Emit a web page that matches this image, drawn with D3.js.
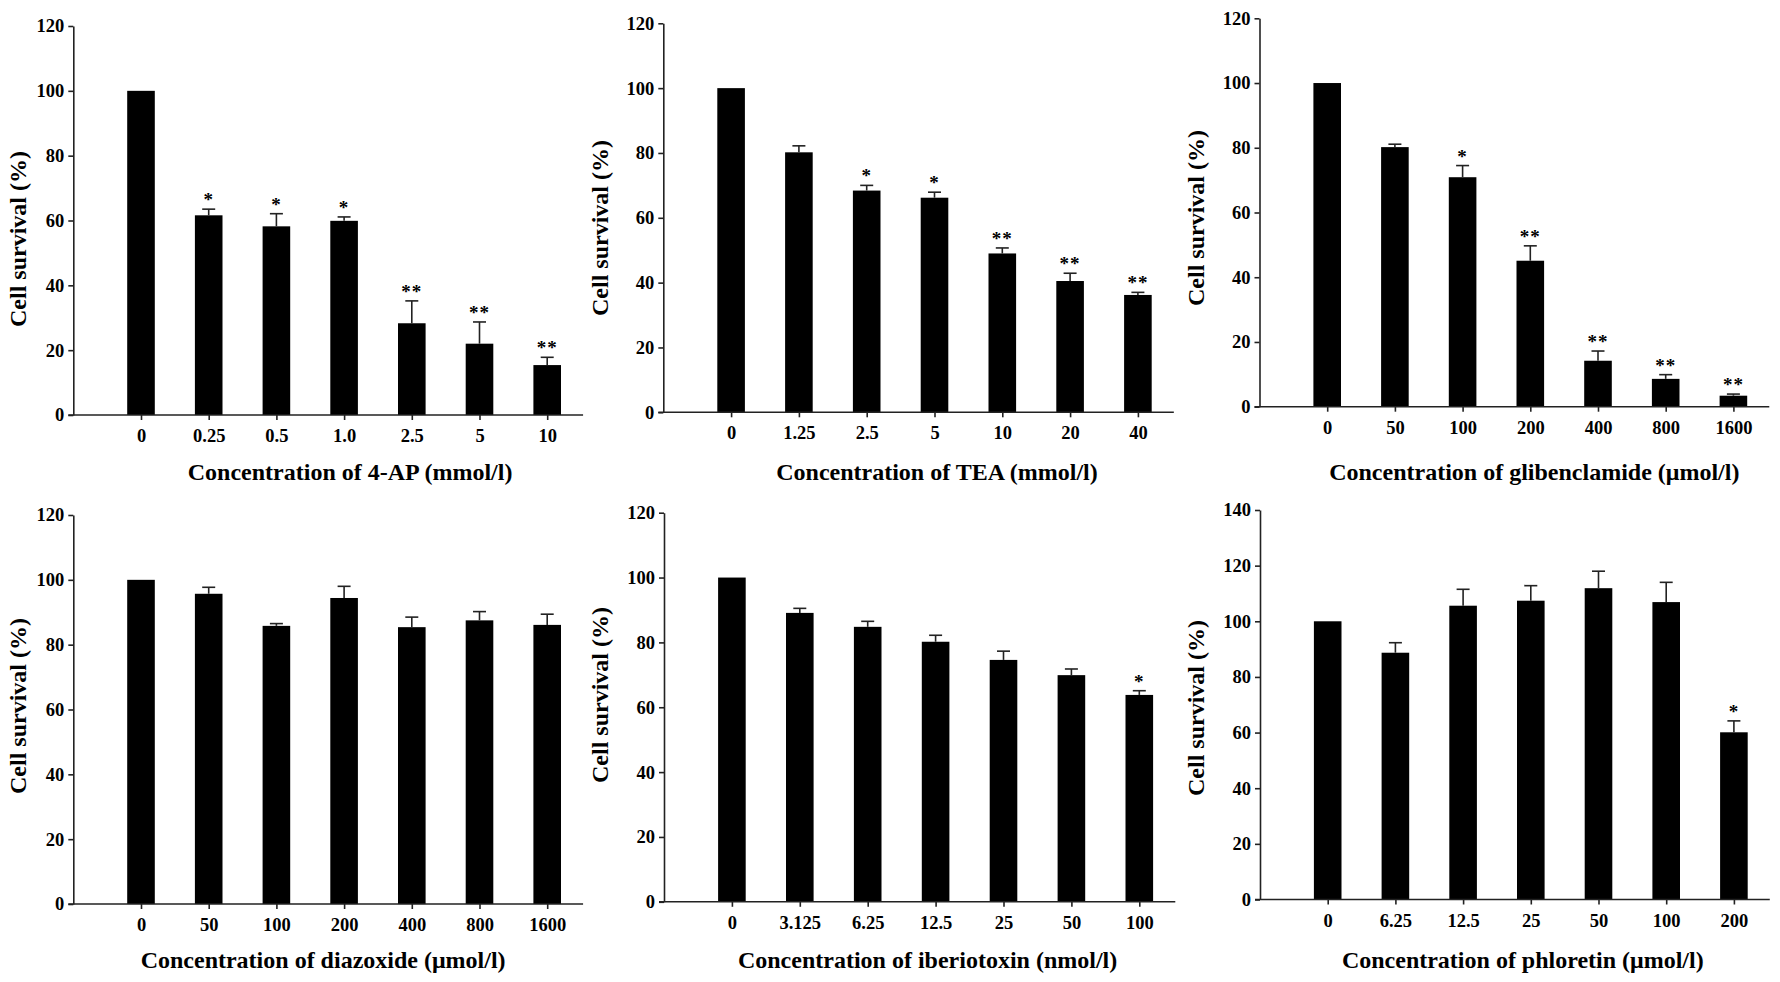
<!DOCTYPE html>
<html>
<head>
<meta charset="utf-8">
<script src="https://cdn.jsdelivr.net/npm/d3@7"></script>
<style>
  body { margin: 0; background: #fff; }
  text { font-family: "Liberation Serif", "Times New Roman", serif; font-weight: bold; fill: #000; }
</style>
</head>
<body>
<svg width="1780" height="982"></svg>
<script>
// values (mean cell survival %, SEM, significance)
var apConc = ["0", "0.25", "0.5", "1.0", "2.5", "5", "10"];
var apMean = [100, 61.6, 58.2, 59.9, 28.3, 22.0, 15.4];
var apErr  = [0, 1.9, 3.9, 1.2, 6.9, 6.7, 2.4];
var apSig  = ["", "*", "*", "*", "**", "**", "**"];

var teaConc = ["0", "1.25", "2.5", "5", "10", "20", "40"];
var teaMean = [100, 80.2, 68.4, 66.2, 49.0, 40.5, 36.2];
var teaErr  = [0, 2.0, 1.6, 1.7, 1.7, 2.4, 0.8];
var teaSig  = ["", "", "*", "*", "**", "**", "**"];

var gliConc = ["0", "50", "100", "200", "400", "800", "1600"];
var gliMean = [100, 80.2, 70.9, 45.1, 14.2, 8.6, 3.4];
var gliErr  = [0, 0.9, 3.6, 4.6, 3.0, 1.3, 0.5];
var gliSig  = ["", "", "*", "**", "**", "**", "**"];

var diaConc = ["0", "50", "100", "200", "400", "800", "1600"];
var diaMean = [100, 95.7, 85.8, 94.4, 85.4, 87.5, 86.1];
var diaErr  = [0, 2.0, 0.7, 3.6, 3.1, 2.7, 3.3];
var diaSig  = ["", "", "", "", "", "", ""];

var ibtConc = ["0", "3.125", "6.25", "12.5", "25", "50", "100"];
var ibtMean = [100, 89.1, 84.8, 80.2, 74.6, 69.9, 63.8];
var ibtErr  = [0, 1.4, 1.7, 2.0, 2.7, 1.9, 1.3];
var ibtSig  = ["", "", "", "", "", "", "*"];

var phlConc = ["0", "6.25", "12.5", "25", "50", "100", "200"];
var phlMean = [100, 88.7, 105.6, 107.4, 111.9, 106.9, 60.1];
var phlErr  = [0, 3.6, 5.9, 5.4, 6.1, 7.1, 4.1];
var phlSig  = ["", "", "", "", "", "", "*"];

var yTicks120 = [0, 20, 40, 60, 80, 100, 120];
var yTicks140 = [0, 20, 40, 60, 80, 100, 120, 140];

var yTitle = "Cell survival (%)";

// panel layout
var panels = [
  {cats: apConc, mean: apMean, err: apErr, sig: apSig, ticks: yTicks120,
   title: "Concentration of 4-AP (mmol/l)",
   ax: 73.3, y0: 415, yT: 26, step: 67.7, tdx: 6, tY: 480, ytx: 55, yty: 239},
  {cats: teaConc, mean: teaMean, err: teaErr, sig: teaSig, ticks: yTicks120,
   title: "Concentration of TEA (mmol/l)",
   ax: 663.3, y0: 412.3, yT: 23.3, step: 67.8, tdx: 2.5, tY: 480, ytx: 63, yty: 228},
  {cats: gliConc, mean: gliMean, err: gliErr, sig: gliSig, ticks: yTicks120,
   title: "Concentration of glibenclamide (\u03bcmol/l)",
   ax: 1259.5, y0: 406.7, yT: 18.3, step: 67.7, tdx: 4, tY: 480, ytx: 64, yty: 218},
  {cats: diaConc, mean: diaMean, err: diaErr, sig: diaSig, ticks: yTicks120,
   title: "Concentration of diazoxide (\u03bcmol/l)",
   ax: 73.3, y0: 904, yT: 515, step: 67.7, tdx: -21, tY: 968, ytx: 55, yty: 706},
  {cats: ibtConc, mean: ibtMean, err: ibtErr, sig: ibtSig, ticks: yTicks120,
   title: "Concentration of iberiotoxin (nmol/l)",
   ax: 664, y0: 901.8, yT: 512.7, step: 67.9, tdx: -8, tY: 968, ytx: 64, yty: 695},
  {cats: phlConc, mean: phlMean, err: phlErr, sig: phlSig, ticks: yTicks140,
   title: "Concentration of phloretin (\u03bcmol/l)",
   ax: 1260, y0: 899.5, yT: 510, step: 67.7, tdx: -8, tY: 968, ytx: 64, yty: 708}
];

var svg = d3.select('svg');

panels.forEach(function(p) {
  var n = p.cats.length;
  var yMax = p.ticks[p.ticks.length - 1];

  var x = d3.scalePoint()
    .domain([" "].concat(p.cats))
    .range([p.ax, p.ax + n * p.step]);
  var y = d3.scaleLinear().domain([0, yMax]).range([p.y0, p.yT]);

  var g = svg.append('g');

  var rows = p.cats.map(function(c, i) {
    return {cat: c, mean: p.mean[i], err: p.err[i], sig: p.sig[i]};
  });

  // bars
  g.selectAll('.bar')
    .data(rows)
    .enter()
    .append('rect')
    .attr('class', 'bar')
    .attr('x', function(d){ return x(d.cat) - 13.8; })
    .attr('width', 27.6)
    .attr('y', function(d){ return y(d.mean); })
    .attr('height', function(d){ return p.y0 - y(d.mean); })
    .attr('fill', '#000');

  // error bars
  var eb = rows.filter(function(d){ return d.err > 0; });
  g.selectAll('.errv')
    .data(eb)
    .enter()
    .append('line')
    .attr('x1', function(d){ return x(d.cat); })
    .attr('x2', function(d){ return x(d.cat); })
    .attr('y1', function(d){ return y(d.mean); })
    .attr('y2', function(d){ return y(d.mean + d.err); })
    .attr('stroke', '#222')
    .attr('stroke-width', 1.6);
  g.selectAll('.errc')
    .data(eb)
    .enter()
    .append('line')
    .attr('x1', function(d){ return x(d.cat) - 6.5; })
    .attr('x2', function(d){ return x(d.cat) + 6.5; })
    .attr('y1', function(d){ return y(d.mean + d.err); })
    .attr('y2', function(d){ return y(d.mean + d.err); })
    .attr('stroke', '#222')
    .attr('stroke-width', 1.6);

  // significance stars
  g.selectAll('.sig')
    .data(rows.filter(function(d){ return d.sig; }))
    .enter()
    .append('text')
    .attr('x', function(d){ return x(d.cat); })
    .attr('y', function(d){ return y(d.mean + d.err) - 3; })
    .attr('text-anchor', 'middle')
    .attr('font-size', 19)
    .attr('letter-spacing', 1)
    .text(function(d){ return d.sig; });

  // y axis
  var ya = g.append('g')
    .attr('transform', 'translate(' + p.ax + ',0)')
    .call(d3.axisLeft(y).tickValues(p.ticks).tickSize(5).tickSizeOuter(0).tickPadding(4));
  ya.select('.domain').attr('stroke', '#222').attr('stroke-width', 1.6);
  ya.selectAll('.tick line').attr('stroke', '#222').attr('stroke-width', 1.6);
  ya.selectAll('.tick text').attr('font-size', 18.5).attr('font-family', null);

  // x axis
  var xa = g.append('g')
    .attr('transform', 'translate(0,' + p.y0 + ')')
    .call(d3.axisBottom(x).tickValues(p.cats).tickSize(5).tickPadding(9));
  xa.select('.domain').remove();
  xa.append('line')
    .attr('x1', p.ax - 5)
    .attr('x2', p.ax + (n + 0.53) * p.step)
    .attr('stroke', '#222')
    .attr('stroke-width', 1.6);
  xa.selectAll('.tick line').attr('stroke', '#222').attr('stroke-width', 1.6);
  xa.selectAll('.tick text').attr('font-size', 18.5).attr('font-family', null);

  // axis titles
  g.append('text')
    .attr('x', x(p.cats[3]) + p.tdx)
    .attr('y', p.tY)
    .attr('text-anchor', 'middle')
    .attr('font-size', 24)
    .text(p.title);

  g.append('text')
    .attr('transform', 'translate(' + (p.ax - p.ytx) + ',' + p.yty + ') rotate(-90)')
    .attr('text-anchor', 'middle')
    .attr('dy', '0.34em')
    .attr('font-size', 24)
    .text(yTitle);
});
</script>
</body>
</html>
